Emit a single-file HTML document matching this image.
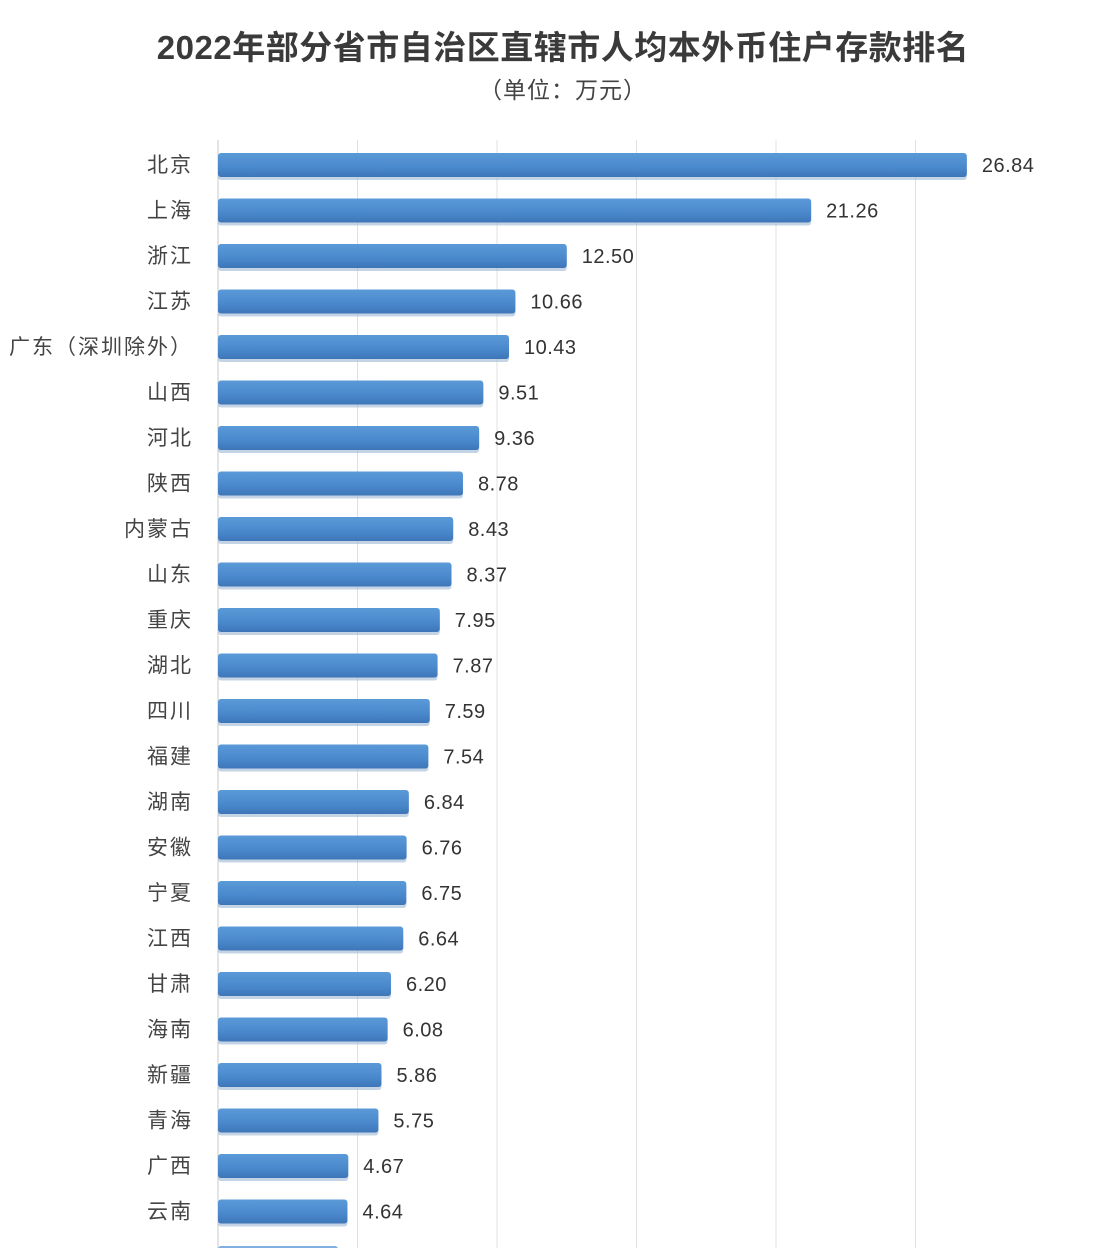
<!DOCTYPE html>
<html><head><meta charset="utf-8">
<style>
body{margin:0;background:#fff;}
svg{display:block;font-family:"Liberation Sans","Noto Sans CJK SC",sans-serif;}
</style></head>
<body>
<svg id="chart" width="1106" height="1248" viewBox="0 0 1106 1248">
<defs>
<linearGradient id="bg" x1="0" y1="0" x2="0" y2="1">
<stop offset="0" stop-color="#5b9ad8"/><stop offset="0.6" stop-color="#4a88cc"/><stop offset="1" stop-color="#3d76b8"/>
</linearGradient>
</defs>
<text x="563" y="59" text-anchor="middle" font-size="33" font-weight="bold" fill="#3a3a3a" letter-spacing="0.5">2022年部分省市自治区直辖市人均本外币住户存款排名</text>
<text x="563" y="98" text-anchor="middle" font-size="23" fill="#444" letter-spacing="1">（单位：万元）</text>
<g id="grid"></g>
<g id="bars"></g>
</svg>
<script>
const categories=["北京","上海","浙江","江苏","广东（深圳除外）","山西","河北","陕西","内蒙古","山东","重庆","湖北","四川","福建","湖南","安徽","宁夏","江西","甘肃","海南","新疆","青海","广西","云南"];
const values=[26.84,21.26,12.50,10.66,10.43,9.51,9.36,8.78,8.43,8.37,7.95,7.87,7.59,7.54,6.84,6.76,6.75,6.64,6.20,6.08,5.86,5.75,4.67,4.64];
const gridTicks=[0,5,10,15,20,25];
const NS="http://www.w3.org/2000/svg";
const x0=218,scale=27.9,y0=165,step=45.5,bh=24;
const xs=v=>x0+v*scale;
const ys=i=>y0+i*step;
const grid=document.getElementById('grid'),bars=document.getElementById('bars');
function mk(t,a,p){const e=document.createElementNS(NS,t);for(const k in a)e.setAttribute(k,a[k]);p.appendChild(e);return e;}
gridTicks.forEach(t=>{
  const l=mk('line',{x1:xs(t),x2:xs(t),y1:140,y2:1248,stroke:t===0?'#c8c8c8':'#e0e0e0','stroke-width':1},grid);
  
  
});
categories.forEach((c,i)=>{
  const y=ys(i);
  const sh=mk('rect',{x:x0,y:y-bh/2+3,width:xs(values[i])-x0,height:bh,rx:3,fill:'#9fb7d2',opacity:0.6},bars);
  
  
  const r=mk('rect',{x:x0,y:y-bh/2,width:xs(values[i])-x0,height:bh,rx:3,fill:'url(#bg)'},bars);
  
  
  const lb=mk('text',{x:193,y:y+7,'text-anchor':'end','font-size':21,'letter-spacing':2,fill:'#444'},bars);
  lb.textContent=c;
  
  
  const vl=mk('text',{x:xs(values[i])+15,y:y+7,'font-size':20,'letter-spacing':0.5,fill:'#333'},bars);
  vl.textContent=values[i].toFixed(2);
  
  
});
const pr=mk('rect',{x:x0,y:1246,width:xs(4.3)-x0,height:bh,rx:3,fill:'#7fb0e0'},bars);


</script>
</body></html>
